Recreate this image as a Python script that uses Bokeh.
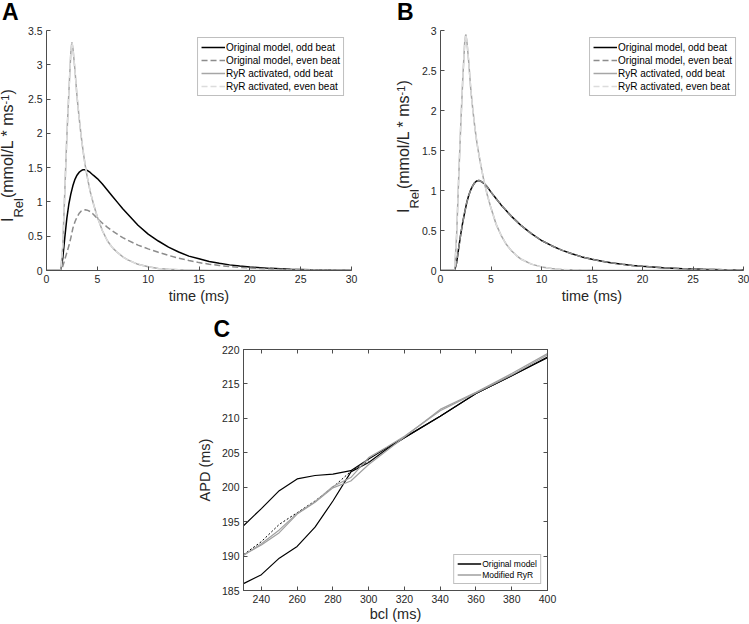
from math import pi
from bokeh.plotting import figure
from bokeh.models import (Range1d, FixedTicker, Legend, LegendItem, Label,
                          LinearAxis, Spacer, Div)
from bokeh.layouts import row, column
from bokeh.embed import file_html
from bokeh.resources import INLINE

FONT = "Liberation Sans"
AX = "#4d4d4d"
TXT = "#262626"

# ---------------- data ----------------
t_ms = [0, 1.0, 1.4, 1.6, 1.8, 2.0, 2.2, 2.4, 2.5, 2.6, 2.8, 3.0, 3.2, 3.4, 3.6,
        3.8, 4.0, 4.3, 4.6, 5.0, 5.5, 6.0, 6.5, 7.0, 7.5, 8.0, 9, 10, 11, 12, 13,
        14, 15, 16, 17, 18, 19, 20, 22, 24, 26, 28, 30]

# Panel A
a_orig_odd = [0, 0, 0, 0.18, 0.48, 0.76, 0.97, 1.12, 1.18, 1.24, 1.33, 1.39, 1.43,
              1.455, 1.47, 1.47, 1.46, 1.43, 1.39, 1.34, 1.26, 1.17, 1.08, 0.99,
              0.90, 0.82, 0.66, 0.53, 0.43, 0.34, 0.27, 0.21, 0.17, 0.13, 0.105,
              0.082, 0.065, 0.05, 0.031, 0.019, 0.012, 0.007, 0.004]
a_orig_even = [0, 0, 0, 0.06, 0.16, 0.26, 0.36, 0.48, 0.55, 0.62, 0.71, 0.78, 0.83,
               0.865, 0.88, 0.885, 0.88, 0.86, 0.82, 0.76, 0.69, 0.63, 0.575, 0.525,
               0.48, 0.44, 0.37, 0.315, 0.265, 0.22, 0.18, 0.145, 0.115, 0.092,
               0.073, 0.058, 0.046, 0.036, 0.022, 0.014, 0.009, 0.005, 0.003]
a_ryr_odd = [0, 0, 0, 0.35, 1.15, 1.95, 2.6, 3.2, 3.33, 3.24, 2.92, 2.54, 2.24,
             1.97, 1.74, 1.54, 1.37, 1.15, 0.98, 0.78, 0.58, 0.43, 0.33, 0.26, 0.2,
             0.155, 0.09, 0.055, 0.03, 0.018, 0.01, 0.006, 0.003, 0, 0, 0, 0, 0,
             0, 0, 0, 0, 0]
a_ryr_even = [0, 0, 0, 0.35, 1.15, 1.95, 2.6, 3.2, 3.33, 3.24, 2.92, 2.54, 2.24,
              1.97, 1.74, 1.54, 1.37, 1.15, 0.98, 0.78, 0.58, 0.43, 0.33, 0.26, 0.2,
              0.155, 0.09, 0.055, 0.03, 0.018, 0.01, 0.006, 0.003, 0, 0, 0, 0, 0,
              0, 0, 0, 0, 0]

# Panel B
b_orig_odd = [0, 0, 0, 0.1, 0.28, 0.45, 0.6, 0.73, 0.79, 0.85, 0.94, 1.01, 1.06,
              1.1, 1.12, 1.125, 1.115, 1.09, 1.05, 0.98, 0.9, 0.82, 0.75, 0.68,
              0.62, 0.56, 0.46, 0.375, 0.31, 0.255, 0.21, 0.17, 0.14, 0.115, 0.095,
              0.078, 0.064, 0.052, 0.035, 0.023, 0.015, 0.01, 0.006]
b_orig_even = [0, 0, 0, 0.1, 0.28, 0.45, 0.6, 0.73, 0.79, 0.85, 0.94, 1.01, 1.06,
               1.1, 1.12, 1.125, 1.115, 1.09, 1.05, 0.98, 0.9, 0.82, 0.75, 0.68,
               0.62, 0.56, 0.46, 0.375, 0.31, 0.255, 0.21, 0.17, 0.14, 0.115, 0.095,
               0.078, 0.064, 0.052, 0.035, 0.023, 0.015, 0.01, 0.006]
b_ryr_odd = [0, 0, 0, 0.45, 1.15, 1.8, 2.38, 2.86, 2.95, 2.88, 2.6, 2.26, 2.01,
             1.79, 1.6, 1.45, 1.31, 1.12, 0.96, 0.78, 0.58, 0.44, 0.33, 0.25, 0.19,
             0.14, 0.08, 0.045, 0.025, 0.014, 0.008, 0.004, 0.002, 0, 0, 0, 0, 0,
             0, 0, 0, 0, 0]
b_ryr_even = [0, 0, 0, 0.45, 1.15, 1.8, 2.38, 2.86, 2.95, 2.88, 2.6, 2.26, 2.01,
              1.79, 1.6, 1.45, 1.31, 1.12, 0.96, 0.78, 0.58, 0.44, 0.33, 0.25, 0.19,
              0.14, 0.08, 0.045, 0.025, 0.014, 0.008, 0.004, 0.002, 0, 0, 0, 0, 0,
              0, 0, 0, 0, 0]

# Panel C
bcl = [230, 240, 250, 260, 270, 280, 290, 300, 310, 320, 340, 360, 380, 400]
apd_orig_odd = [194.4, 196.9, 199.5, 201.2, 201.7, 201.9, 202.4, 204.1, 205.7,
                207.2, 210.3, 213.6, 216.2, 218.9]
apd_orig_even = [186.0, 187.3, 189.7, 191.4, 194.2, 198.0, 202.2, 203.6, 205.5,
                 207.2, 210.3, 213.6, 216.2, 218.8]
bcl_mean = [230, 240, 250, 260, 270, 280, 290, 300]
apd_orig_mean = [190.2, 192.1, 194.6, 196.3, 198.0, 200.0, 202.3, 203.8]
apd_ryr_odd = [190.2, 191.6, 193.4, 196.1, 197.8, 199.9, 200.9, 203.3, 205.3,
               207.3, 211.3, 213.8, 216.5, 219.4]
apd_ryr_even = [190.1, 191.8, 193.8, 196.2, 197.9, 200.1, 201.4, 204.3, 205.8,
                207.4, 211.1, 213.7, 216.3, 219.2]

t_ticks = [0, 5, 10, 15, 20, 25, 30]
t_tick_labels = ["0", "5", "10", "15", "20", "25", "30"]
a_yticks = [0, 0.5, 1, 1.5, 2, 2.5, 3, 3.5]
a_ytick_labels = ["0", "0.5", "1", "1.5", "2", "2.5", "3", "3.5"]
b_yticks = [0, 0.5, 1, 1.5, 2, 2.5, 3]
b_ytick_labels = ["0", "0.5", "1", "1.5", "2", "2.5", "3"]
c_xticks = [240, 260, 280, 300, 320, 340, 360, 380, 400]
c_xtick_labels = ["240", "260", "280", "300", "320", "340", "360", "380", "400"]
c_yticks = [185, 190, 195, 200, 205, 210, 215, 220]
c_ytick_labels = ["185", "190", "195", "200", "205", "210", "215", "220"]

legend_ab = ["Original model, odd beat", "Original model, even beat",
             "RyR activated, odd beat", "RyR activated, even beat"]
legend_c = ["Original model", "Modified RyR"]
x_label_ab = "time (ms)"
x_label_c = "bcl (ms)"
y_label_c = "APD (ms)"


# ---------------- helpers ----------------
def style_axis(ax, ticks, labels, show_labels=True):
    ax.ticker = FixedTicker(ticks=ticks)
    ax.axis_line_color = AX
    ax.axis_line_width = 1
    ax.major_tick_line_color = AX
    ax.major_tick_in = 4
    ax.major_tick_out = 0
    ax.minor_tick_line_color = None
    ax.major_label_text_font = FONT
    ax.major_label_text_color = TXT
    ax.major_label_standoff = 4
    ax.axis_label_text_font = FONT
    ax.axis_label_text_font_style = "normal"
    ax.axis_label_text_color = TXT
    ax.axis_label_text_font_size = "14.5px"
    if show_labels:
        ax.major_label_overrides = {k: v for k, v in zip(ticks, labels)}
        ax.major_label_text_font_size = "10.5px"
    else:
        ax.major_label_overrides = {k: "" for k in ticks}
        ax.major_label_text_font_size = "1px"
        ax.major_label_text_color = None
        ax.major_label_standoff = 0


def make_fig(xr, yr, fw, fh, bl, br, bt, bb):
    p = figure(x_range=Range1d(*xr), y_range=Range1d(*yr),
               frame_width=fw, frame_height=fh,
               min_border_left=bl, min_border_right=br,
               min_border_top=bt, min_border_bottom=bb,
               output_backend="svg", toolbar_location=None)
    p.xgrid.visible = False
    p.ygrid.visible = False
    p.outline_line_color = None
    return p


def side_div(w, h, letter, letter_left, letter_top, main_left, main_top):
    """Panel letter plus the rotated I_Rel(mmol/L * ms^-1) label, as HTML text."""
    html = (
        f'<div style="position:relative;width:{w}px;height:{h}px;'
        f"font-family:'{FONT}',Arial,sans-serif;color:{TXT};\">"
        f'<div style="position:absolute;left:{letter_left}px;top:{letter_top}px;'
        f'font-size:23px;font-weight:bold;line-height:23px;color:#000;">{letter}</div>'
        f'<div style="position:absolute;left:{main_left}px;top:{main_top}px;'
        f'transform-origin:0 0;transform:rotate(-90deg);white-space:nowrap;'
        f'font-size:16px;line-height:16px;">I'
        f'<span style="font-size:13px;position:relative;top:9.6px;">Rel</span>'
        f'(mmol/L * ms'
        f'<span style="font-size:11px;position:relative;top:-3.6px;">-1</span>'
        f')</div></div>'
    )
    return Div(text=html, width=w, height=h, margin=0)


def ab_panel(yr, yticks, ylabels, series, fw, br):
    p = make_fig((0, 30), yr, fw, 240, 21, br, 30, 38)
    style_axis(p.xaxis[0], t_ticks, t_tick_labels)
    style_axis(p.yaxis[0], yticks, ylabels)
    p.xaxis[0].axis_label = x_label_ab
    p.xaxis[0].axis_label_standoff = 2
    styles = [("black", "solid"), ("#8c8c8c", "6 3"),
              ("#a6a6a6", "solid"), ("#dcdcdc", "6 3")]
    items = []
    for (col, dash), ys, name in zip(styles, series, legend_ab):
        r = p.line(t_ms, ys, line_color=col, line_width=1.5, line_dash=dash)
        items.append(LegendItem(label=name, renderers=[r]))
    leg = Legend(items=items, location="top_right", margin=7, padding=3,
                 spacing=1, glyph_width=24, glyph_height=12, label_height=12,
                 label_standoff=1, label_text_font=FONT,
                 label_text_font_size="10px", label_text_color="black",
                 label_text_baseline="middle",
                 border_line_color="#7f7f7f", border_line_width=1,
                 background_fill_color="white", background_fill_alpha=1)
    p.add_layout(leg)
    return p


# Row 1
ylA = side_div(24, 308, "A", 2, 1, 0, 222)
pA = ab_panel((0, 3.5), a_yticks, a_ytick_labels,
              [a_orig_odd, a_orig_even, a_ryr_odd, a_ryr_even], 305, 44)
ylB = side_div(23, 308, "B", 2, 1, 1, 213)
pB = ab_panel((0, 3), b_yticks, b_ytick_labels,
              [b_orig_odd, b_orig_even, b_ryr_odd, b_ryr_even], 303, 8)

# Row 2: letter C
stripC = figure(x_range=Range1d(0, 60), y_range=Range1d(0, 36),
                frame_width=60, frame_height=36, min_border=0,
                x_axis_type=None, y_axis_type=None,
                output_backend="svg", toolbar_location=None)
stripC.outline_line_color = None
stripC.add_layout(Label(text="C", x=23, y=16, text_align="left",
                        text_baseline="middle", text_font=FONT,
                        text_font_size="23px", text_font_style="bold",
                        text_color="black"))

# Row 3: panel C
pC = make_fig((230, 400), (185, 220), 304, 241, 53, 10, 5, 34)
pC.outline_line_color = AX
pC.outline_line_width = 1
style_axis(pC.xaxis[0], c_xticks, c_xtick_labels)
style_axis(pC.yaxis[0], c_yticks, c_ytick_labels)
pC.xaxis[0].axis_label = x_label_c
pC.xaxis[0].axis_label_standoff = 0
pC.yaxis[0].axis_label = y_label_c
pC.yaxis[0].axis_label_standoff = 6
top_ax = LinearAxis()
right_ax = LinearAxis()
pC.add_layout(top_ax, "above")
pC.add_layout(right_ax, "right")
style_axis(top_ax, c_xticks, c_xtick_labels, show_labels=False)
style_axis(right_ax, c_yticks, c_ytick_labels, show_labels=False)

r_o1 = pC.line(bcl, apd_orig_odd, line_color="black", line_width=1.2)
r_o2 = pC.line(bcl, apd_orig_even, line_color="black", line_width=1.2)
pC.line(bcl_mean, apd_orig_mean, line_color="black", line_width=1.0,
        line_dash="2 2")
r_m1 = pC.line(bcl, apd_ryr_odd, line_color="#a0a0a0", line_width=1.2)
r_m2 = pC.line(bcl, apd_ryr_even, line_color="#a0a0a0", line_width=1.2)
legC = Legend(items=[LegendItem(label=legend_c[0], renderers=[r_o1, r_o2]),
                     LegendItem(label=legend_c[1], renderers=[r_m1, r_m2])],
              location="bottom_right", margin=6, padding=3, spacing=0,
              glyph_width=24, glyph_height=11, label_height=11,
              label_standoff=1, label_text_font=FONT,
              label_text_font_size="8.5px", label_text_color="black",
              label_text_baseline="middle",
              border_line_color="#7f7f7f", border_line_width=1,
              background_fill_color="white", background_fill_alpha=1)
pC.add_layout(legC)

layout = column(row(ylA, pA, ylB, pB),
                row(Spacer(width=190, height=36), stripC),
                row(Spacer(width=190, height=10), pC))

with open("out.html", "w") as f:
    f.write(file_html(layout, INLINE, title="IRel and APD"))
